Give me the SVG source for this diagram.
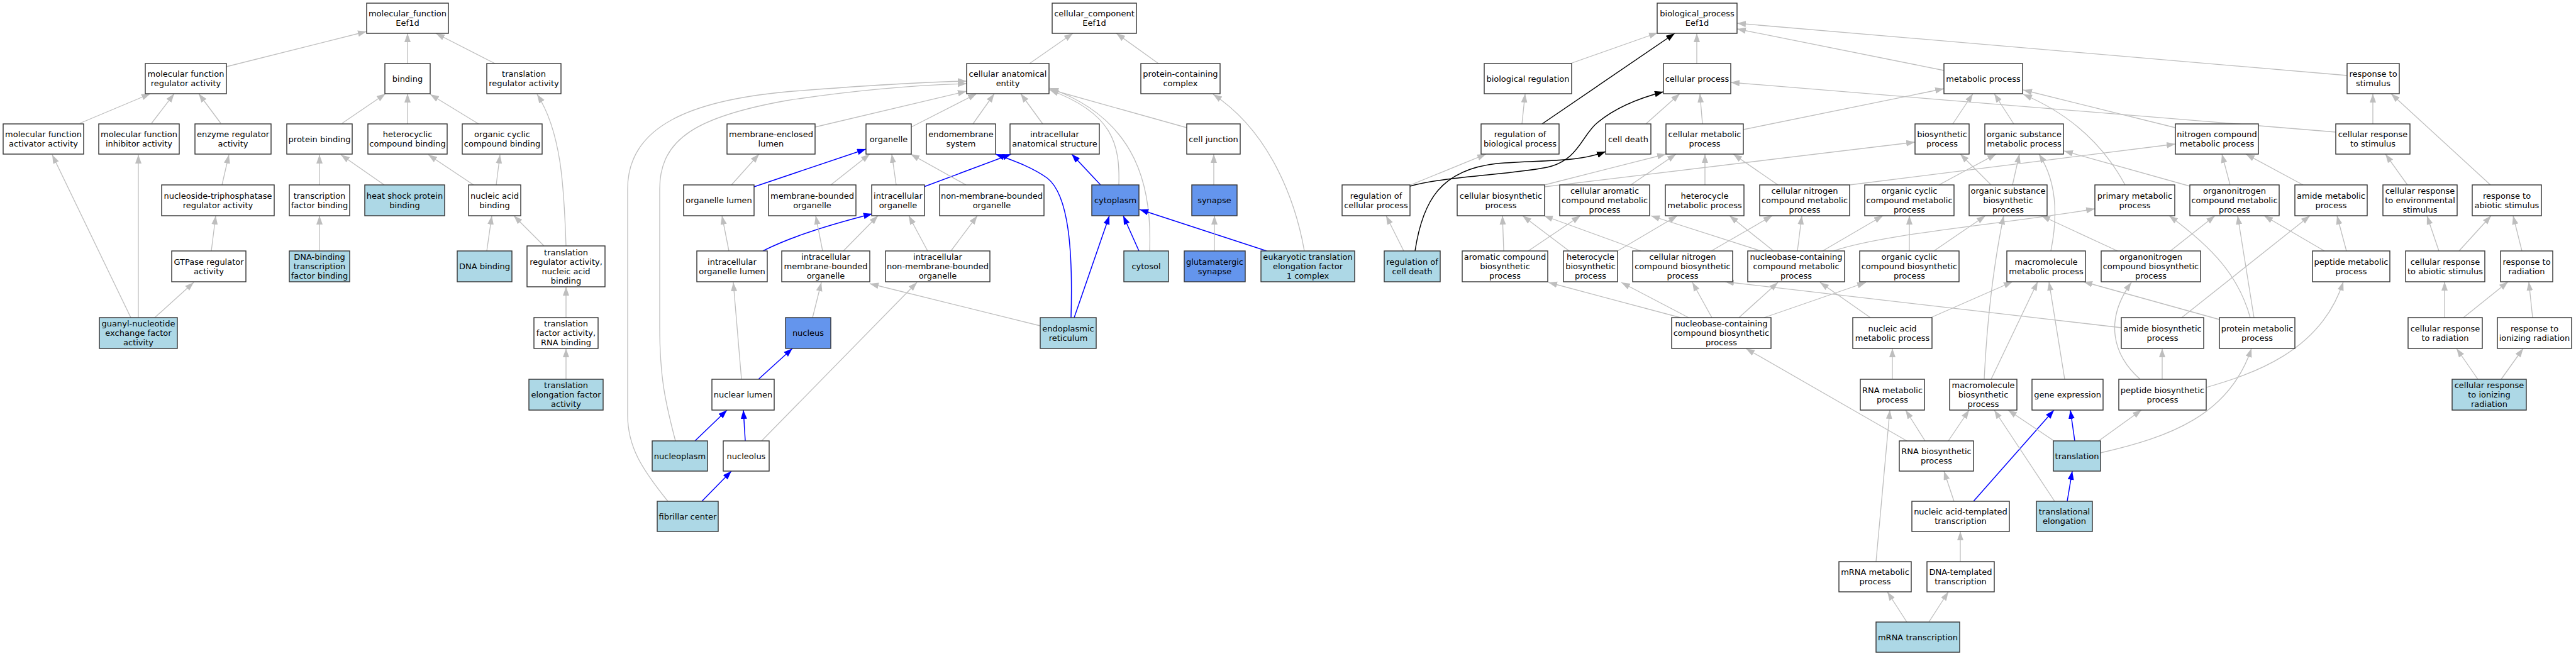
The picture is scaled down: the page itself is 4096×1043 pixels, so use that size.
<svg xmlns="http://www.w3.org/2000/svg" width="4096" height="1043" viewBox="0 0 4096 1043">
<style>
.n rect{fill:#fff;stroke:#333;stroke-width:1.4}
.lb rect{fill:#ADD8E6}
.cb rect{fill:#6495ED}
text{font-family:"DejaVu Sans","Liberation Sans",sans-serif;font-size:13px;text-anchor:middle;fill:#000}
.e{fill:none;stroke:#BEBEBE;stroke-width:1.3;marker-end:url(#ag)}
.b{fill:none;stroke:#0000FF;stroke-width:1.5;marker-end:url(#ab)}
.k{fill:none;stroke:#000;stroke-width:1.5;marker-end:url(#ak)}
</style>
<defs>
<marker id="ag" markerWidth="15" markerHeight="11" refX="14" refY="5" orient="auto" markerUnits="userSpaceOnUse"><path d="M0,0 L14,5 L0,10 z" fill="#BEBEBE"/></marker>
<marker id="ab" markerWidth="15" markerHeight="11" refX="14" refY="5" orient="auto" markerUnits="userSpaceOnUse"><path d="M0,0 L14,5 L0,10 z" fill="#0000FF"/></marker>
<marker id="ak" markerWidth="15" markerHeight="11" refX="14" refY="5" orient="auto" markerUnits="userSpaceOnUse"><path d="M0,0 L14,5 L0,10 z" fill="#000"/></marker>
</defs>
<rect x="0" y="0" width="4096" height="1043" fill="#fff"/>
<g id="connectors">
<path class="e" d="M360,106 L583,50"/>
<path class="e" d="M648,101 L648,53"/>
<path class="e" d="M787,101 L693,53"/>
<path class="e" d="M127,196 L239,149"/>
<path class="e" d="M241,196 L277,149"/>
<path class="e" d="M351,196 L316,149"/>
<path class="e" d="M544,196 L613,149"/>
<path class="e" d="M648,197 L648,149"/>
<path class="e" d="M761,197 L684,150"/>
<path class="e" d="M208,505 L83,246"/>
<path class="e" d="M220,505 L220,246"/>
<path class="e" d="M246,505 L308,449"/>
<path class="e" d="M336,399 L343,343"/>
<path class="e" d="M353,294 L364,246"/>
<path class="e" d="M508,294 L508,246"/>
<path class="e" d="M611,294 L542,246"/>
<path class="e" d="M508,399 L508,343"/>
<path class="e" d="M753,294 L681,246"/>
<path class="e" d="M789,294 L795,246"/>
<path class="e" d="M774,399 L782,343"/>
<path class="e" d="M865,391 L817,343"/>
<path class="e" d="M900,391 C897,300 893,210 854,150"/>
<path class="e" d="M900,505 L900,456"/>
<path class="e" d="M900,603 L900,554"/>
<path class="e" d="M1637,101 L1706,53"/>
<path class="e" d="M1842,101 L1775,53"/>
<path class="e" d="M1296,202 L1537,145"/>
<path class="e" d="M1062,797 C1020,745 998,710 998,660 L998,300 C998,200 1100,160 1250,146 C1400,134 1480,130 1537,129"/>
<path class="e" d="M1074,701 C1058,640 1049,600 1049,520 L1049,300 C1049,220 1110,185 1250,160 C1380,140 1470,135 1537,133"/>
<path class="e" d="M1449,202 L1553,149"/>
<path class="e" d="M1547,197 L1581,149"/>
<path class="e" d="M1658,197 L1623,149"/>
<path class="e" d="M1887,203 L1669,142"/>
<path class="e" d="M1779,294 C1781,230 1770,180 1669,143"/>
<path class="e" d="M1828,399 C1832,300 1810,190 1669,140"/>
<path class="e" d="M2074,399 C2060,320 2020,210 1929,150"/>
<path class="b" d="M2014,399 L1812,333"/>
<path class="b" d="M1811,399 L1786,343"/>
<path class="b" d="M1708,505 L1764,343"/>
<path class="b" d="M1703,505 C1706,400 1700,310 1665,283 C1640,265 1610,255 1583,245"/>
<path class="b" d="M1469,297 L1608,245"/>
<path class="b" d="M1750,294 L1704,245"/>
<path class="e" d="M1930,294 L1930,245"/>
<path class="e" d="M1931,399 L1931,343"/>
<path class="e" d="M1425,294 L1418,245"/>
<path class="e" d="M1536,294 L1448,245"/>
<path class="e" d="M1475,399 L1445,343"/>
<path class="e" d="M1512,399 L1554,343"/>
<path class="e" d="M1211,701 L1458,449"/>
<path class="e" d="M1654,518 L1383,451"/>
<path class="b" d="M1199,297 L1377,237"/>
<path class="e" d="M1163,294 L1207,245"/>
<path class="e" d="M1321,294 L1383,245"/>
<path class="e" d="M1159,399 L1148,343"/>
<path class="b" d="M1213,399 C1250,380 1300,362 1387,340"/>
<path class="e" d="M1308,399 L1297,343"/>
<path class="e" d="M1341,399 L1396,343"/>
<path class="e" d="M1292,505 L1306,449"/>
<path class="e" d="M1179,603 L1166,449"/>
<path class="b" d="M1206,603 L1260,554"/>
<path class="b" d="M1105,701 L1156,652"/>
<path class="b" d="M1185,701 L1182,652"/>
<path class="b" d="M1116,797 L1163,749"/>
<path class="e" d="M2497,101 L2636,52"/>
<path class="k" d="M2452,197 L2663,53"/>
<path class="e" d="M2698,101 L2698,53"/>
<path class="e" d="M3091,112 L2762,46"/>
<path class="e" d="M3732,120 L2762,37"/>
<path class="e" d="M2707,197 L2703,149"/>
<path class="e" d="M2617,197 L2671,149"/>
<path class="k" d="M2242,296 C2300,280 2400,278 2460,266 C2510,255 2515,215 2540,195 C2570,170 2610,155 2645,146"/>
<path class="e" d="M2243,294 L2363,245"/>
<path class="k" d="M2250,399 C2262,320 2290,270 2380,260 C2460,254 2510,258 2553,241"/>
<path class="e" d="M2232,399 L2204,343"/>
<path class="e" d="M3714,210 L2752,131"/>
<path class="e" d="M2772,206 L3091,141"/>
<path class="e" d="M2456,294 L2649,245"/>
<path class="e" d="M2456,297 L3045,226"/>
<path class="e" d="M2593,294 L2665,245"/>
<path class="e" d="M2711,294 L2711,245"/>
<path class="e" d="M2827,294 L2756,245"/>
<path class="e" d="M2941,294 L3459,229"/>
<path class="e" d="M3083,294 L3174,245"/>
<path class="e" d="M3166,294 L3117,245"/>
<path class="e" d="M3200,294 L3211,245"/>
<path class="e" d="M3105,197 L3137,149"/>
<path class="e" d="M3202,197 L3171,149"/>
<path class="e" d="M3379,294 C3350,240 3300,185 3217,150"/>
<path class="e" d="M3459,203 L3217,143"/>
<path class="e" d="M3261,399 C3275,330 3265,280 3242,245"/>
<path class="e" d="M3482,296 L3282,240"/>
<path class="e" d="M3367,399 L3246,343"/>
<path class="e" d="M3451,399 L3522,343"/>
<path class="e" d="M3529,508 L3313,448"/>
<path class="e" d="M3578,505 C3560,440 3520,395 3449,343"/>
<path class="e" d="M3584,505 L3558,343"/>
<path class="e" d="M3469,505 L3673,343"/>
<path class="e" d="M3731,399 L3716,343"/>
<path class="e" d="M3696,399 L3600,343"/>
<path class="e" d="M3662,294 L3571,245"/>
<path class="e" d="M3546,294 L3533,245"/>
<path class="e" d="M3773,197 L3773,149"/>
<path class="e" d="M3960,294 L3802,149"/>
<path class="e" d="M3828,294 L3793,245"/>
<path class="e" d="M3878,399 L3859,343"/>
<path class="e" d="M3910,399 L3961,343"/>
<path class="e" d="M4010,399 L3996,343"/>
<path class="e" d="M3887,505 L3887,448"/>
<path class="e" d="M3917,505 L3988,448"/>
<path class="e" d="M4027,505 L4021,448"/>
<path class="e" d="M3940,603 L3906,554"/>
<path class="e" d="M3977,603 L4012,554"/>
<path class="e" d="M3508,616 C3580,595 3690,560 3726,448"/>
<path class="e" d="M3340,720 C3450,695 3545,660 3580,554"/>
<path class="e" d="M3403,603 C3360,565 3345,510 3389,449"/>
<path class="e" d="M3438,603 L3438,554"/>
<path class="e" d="M3373,521 L2743,448"/>
<path class="e" d="M2391,399 L2389,343"/>
<path class="e" d="M2430,399 L2513,343"/>
<path class="e" d="M2495,399 L2421,343"/>
<path class="e" d="M2572,399 L2667,343"/>
<path class="e" d="M2609,399 L2455,343"/>
<path class="e" d="M2721,399 L2818,343"/>
<path class="e" d="M2800,399 L2625,343"/>
<path class="e" d="M2820,399 L2750,343"/>
<path class="e" d="M2858,399 L2865,343"/>
<path class="e" d="M2898,399 L2994,343"/>
<path class="e" d="M3036,399 L3036,343"/>
<path class="e" d="M3075,399 L3157,343"/>
<path class="e" d="M2915,399 C3000,370 3200,355 3331,332"/>
<path class="e" d="M2974,505 L2894,449"/>
<path class="e" d="M3070,505 L3200,448"/>
<path class="e" d="M2672,505 L2462,449"/>
<path class="e" d="M2685,505 L2578,449"/>
<path class="e" d="M2722,505 L2691,449"/>
<path class="e" d="M2765,505 L2827,449"/>
<path class="e" d="M2805,505 L2967,449"/>
<path class="e" d="M3009,603 L3009,554"/>
<path class="e" d="M3155,603 C3160,500 3170,420 3186,343"/>
<path class="e" d="M3166,603 L3240,448"/>
<path class="e" d="M3283,603 L3258,448"/>
<path class="e" d="M3061,701 L3030,652"/>
<path class="e" d="M3098,701 L3131,652"/>
<path class="e" d="M3032,701 L2776,554"/>
<path class="e" d="M3107,797 L3091,749"/>
<path class="b" d="M3138,797 L3266,652"/>
<path class="b" d="M3299,701 L3292,652"/>
<path class="e" d="M3266,701 L3193,652"/>
<path class="e" d="M3337,701 L3405,652"/>
<path class="b" d="M3287,797 L3295,749"/>
<path class="e" d="M3267,797 L3171,652"/>
<path class="e" d="M3117,893 L3117,845"/>
<path class="e" d="M2983,893 L3005,652"/>
<path class="e" d="M3032,989 L3001,941"/>
<path class="e" d="M3067,989 L3098,941"/>
<path class="e" d="M2420,197 L2425,149"/>
</g>
<g id="nodes">
<g id="mf_root" class="n"><rect x="583" y="5" width="130" height="48"/><text x="648" y="26"><tspan x="648">molecular_function</tspan><tspan x="648" dy="15">Eef1d</tspan></text></g>
<g id="mfra" class="n"><rect x="231" y="101" width="129" height="48"/><text x="295.5" y="122"><tspan x="295.5">molecular function</tspan><tspan x="295.5" dy="15">regulator activity</tspan></text></g>
<g id="binding" class="n"><rect x="612" y="101" width="72" height="48"/><text x="648" y="129.5">binding</text></g>
<g id="tra" class="n"><rect x="774" y="101" width="118" height="48"/><text x="833" y="122"><tspan x="833">translation</tspan><tspan x="833" dy="15">regulator activity</tspan></text></g>
<g id="mfaa" class="n"><rect x="5" y="197" width="128" height="48"/><text x="69" y="218"><tspan x="69">molecular function</tspan><tspan x="69" dy="15">activator activity</tspan></text></g>
<g id="mfia" class="n"><rect x="157" y="197" width="128" height="48"/><text x="221" y="218"><tspan x="221">molecular function</tspan><tspan x="221" dy="15">inhibitor activity</tspan></text></g>
<g id="era" class="n"><rect x="310" y="197" width="121" height="48"/><text x="370.5" y="218"><tspan x="370.5">enzyme regulator</tspan><tspan x="370.5" dy="15">activity</tspan></text></g>
<g id="pb" class="n"><rect x="456" y="197" width="104" height="48"/><text x="508" y="225.5">protein binding</text></g>
<g id="hcb" class="n"><rect x="585" y="197" width="126" height="48"/><text x="648" y="218"><tspan x="648">heterocyclic</tspan><tspan x="648" dy="15">compound binding</tspan></text></g>
<g id="occb" class="n"><rect x="735" y="197" width="127" height="48"/><text x="798.5" y="218"><tspan x="798.5">organic cyclic</tspan><tspan x="798.5" dy="15">compound binding</tspan></text></g>
<g id="ntra" class="n"><rect x="257" y="294" width="179" height="49"/><text x="346.5" y="315.5"><tspan x="346.5">nucleoside-triphosphatase</tspan><tspan x="346.5" dy="15">regulator activity</tspan></text></g>
<g id="tfb" class="n"><rect x="460" y="294" width="96" height="49"/><text x="508" y="315.5"><tspan x="508">transcription</tspan><tspan x="508" dy="15">factor binding</tspan></text></g>
<g id="hspb" class="n lb"><rect x="580" y="294" width="127" height="49"/><text x="643.5" y="315.5"><tspan x="643.5">heat shock protein</tspan><tspan x="643.5" dy="15">binding</tspan></text></g>
<g id="nab" class="n"><rect x="745" y="294" width="83" height="49"/><text x="786.5" y="315.5"><tspan x="786.5">nucleic acid</tspan><tspan x="786.5" dy="15">binding</tspan></text></g>
<g id="gtpra" class="n"><rect x="273" y="399" width="118" height="49"/><text x="332" y="420.5"><tspan x="332">GTPase regulator</tspan><tspan x="332" dy="15">activity</tspan></text></g>
<g id="dbtfb" class="n lb"><rect x="460" y="399" width="96" height="49"/><text x="508" y="413"><tspan x="508">DNA-binding</tspan><tspan x="508" dy="15">transcription</tspan><tspan x="508" dy="15">factor binding</tspan></text></g>
<g id="dnab" class="n lb"><rect x="727" y="399" width="87" height="49"/><text x="770.5" y="428">DNA binding</text></g>
<g id="tranab" class="n"><rect x="838" y="391" width="124" height="65"/><text x="900" y="405.5"><tspan x="900">translation</tspan><tspan x="900" dy="15">regulator activity,</tspan><tspan x="900" dy="15">nucleic acid</tspan><tspan x="900" dy="15">binding</tspan></text></g>
<g id="gnef" class="n lb"><rect x="158" y="505" width="124" height="49"/><text x="220" y="519"><tspan x="220">guanyl-nucleotide</tspan><tspan x="220" dy="15">exchange factor</tspan><tspan x="220" dy="15">activity</tspan></text></g>
<g id="tfarb" class="n"><rect x="849" y="505" width="102" height="49"/><text x="900" y="519"><tspan x="900">translation</tspan><tspan x="900" dy="15">factor activity,</tspan><tspan x="900" dy="15">RNA binding</tspan></text></g>
<g id="tefa" class="n lb"><rect x="841" y="603" width="118" height="49"/><text x="900" y="617"><tspan x="900">translation</tspan><tspan x="900" dy="15">elongation factor</tspan><tspan x="900" dy="15">activity</tspan></text></g>

<g id="cc_root" class="n"><rect x="1673" y="5" width="134" height="48"/><text x="1740" y="26"><tspan x="1740">cellular_component</tspan><tspan x="1740" dy="15">Eef1d</tspan></text></g>
<g id="cae" class="n"><rect x="1537" y="101" width="131" height="48"/><text x="1602.5" y="122"><tspan x="1602.5">cellular anatomical</tspan><tspan x="1602.5" dy="15">entity</tspan></text></g>
<g id="pcc" class="n"><rect x="1814" y="101" width="126" height="48"/><text x="1877" y="122"><tspan x="1877">protein-containing</tspan><tspan x="1877" dy="15">complex</tspan></text></g>
<g id="mel" class="n"><rect x="1156" y="197" width="140" height="48"/><text x="1226" y="218"><tspan x="1226">membrane-enclosed</tspan><tspan x="1226" dy="15">lumen</tspan></text></g>
<g id="organelle" class="n"><rect x="1377" y="197" width="72" height="48"/><text x="1413" y="225.5">organelle</text></g>
<g id="ems" class="n"><rect x="1473" y="197" width="110" height="48"/><text x="1528" y="218"><tspan x="1528">endomembrane</tspan><tspan x="1528" dy="15">system</tspan></text></g>
<g id="ias" class="n"><rect x="1606" y="197" width="142" height="48"/><text x="1677" y="218"><tspan x="1677">intracellular</tspan><tspan x="1677" dy="15">anatomical structure</tspan></text></g>
<g id="cj" class="n"><rect x="1887" y="197" width="85" height="48"/><text x="1929.5" y="225.5">cell junction</text></g>
<g id="ol" class="n"><rect x="1087" y="294" width="112" height="49"/><text x="1143" y="323">organelle lumen</text></g>
<g id="mbo" class="n"><rect x="1222" y="294" width="139" height="49"/><text x="1291.5" y="315.5"><tspan x="1291.5">membrane-bounded</tspan><tspan x="1291.5" dy="15">organelle</tspan></text></g>
<g id="io" class="n"><rect x="1386" y="294" width="84" height="49"/><text x="1428" y="315.5"><tspan x="1428">intracellular</tspan><tspan x="1428" dy="15">organelle</tspan></text></g>
<g id="nmbo" class="n"><rect x="1494" y="294" width="166" height="49"/><text x="1577" y="315.5"><tspan x="1577">non-membrane-bounded</tspan><tspan x="1577" dy="15">organelle</tspan></text></g>
<g id="cytoplasm" class="n cb"><rect x="1736" y="294" width="75" height="49"/><text x="1773.5" y="323">cytoplasm</text></g>
<g id="synapse" class="n cb"><rect x="1895" y="294" width="72" height="49"/><text x="1931" y="323">synapse</text></g>
<g id="iol" class="n"><rect x="1108" y="399" width="112" height="49"/><text x="1164" y="420.5"><tspan x="1164">intracellular</tspan><tspan x="1164" dy="15">organelle lumen</tspan></text></g>
<g id="imbo" class="n"><rect x="1243" y="399" width="140" height="49"/><text x="1313" y="413"><tspan x="1313">intracellular</tspan><tspan x="1313" dy="15">membrane-bounded</tspan><tspan x="1313" dy="15">organelle</tspan></text></g>
<g id="inmbo" class="n"><rect x="1408" y="399" width="166" height="49"/><text x="1491" y="413"><tspan x="1491">intracellular</tspan><tspan x="1491" dy="15">non-membrane-bounded</tspan><tspan x="1491" dy="15">organelle</tspan></text></g>
<g id="cytosol" class="n lb"><rect x="1787" y="399" width="71" height="49"/><text x="1822.5" y="428">cytosol</text></g>
<g id="gsyn" class="n cb"><rect x="1883" y="399" width="97" height="49"/><text x="1931.5" y="420.5"><tspan x="1931.5">glutamatergic</tspan><tspan x="1931.5" dy="15">synapse</tspan></text></g>
<g id="eef1c" class="n lb"><rect x="2005" y="399" width="149" height="49"/><text x="2079.5" y="413"><tspan x="2079.5">eukaryotic translation</tspan><tspan x="2079.5" dy="15">elongation factor</tspan><tspan x="2079.5" dy="15">1 complex</tspan></text></g>
<g id="nucleus" class="n cb"><rect x="1249" y="505" width="72" height="49"/><text x="1285" y="534">nucleus</text></g>
<g id="er" class="n lb"><rect x="1654" y="505" width="89" height="49"/><text x="1698.5" y="526.5"><tspan x="1698.5">endoplasmic</tspan><tspan x="1698.5" dy="15">reticulum</tspan></text></g>
<g id="nl" class="n"><rect x="1132" y="603" width="99" height="49"/><text x="1181.5" y="632">nuclear lumen</text></g>
<g id="nucleoplasm" class="n lb"><rect x="1037" y="701" width="88" height="48"/><text x="1081" y="729.5">nucleoplasm</text></g>
<g id="nucleolus" class="n"><rect x="1150" y="701" width="73" height="48"/><text x="1186.5" y="729.5">nucleolus</text></g>
<g id="fc" class="n lb"><rect x="1045" y="797" width="97" height="48"/><text x="1093.5" y="825.5">fibrillar center</text></g>

<g id="bp_root" class="n"><rect x="2635" y="5" width="127" height="48"/><text x="2698.5" y="26"><tspan x="2698.5">biological_process</tspan><tspan x="2698.5" dy="15">Eef1d</tspan></text></g>
<g id="breg" class="n"><rect x="2360" y="101" width="139" height="48"/><text x="2429.5" y="129.5">biological regulation</text></g>
<g id="cp" class="n"><rect x="2645" y="101" width="107" height="48"/><text x="2698.5" y="129.5">cellular process</text></g>
<g id="mp" class="n"><rect x="3091" y="101" width="125" height="48"/><text x="3153.5" y="129.5">metabolic process</text></g>
<g id="rts" class="n"><rect x="3732" y="101" width="83" height="48"/><text x="3773.5" y="122"><tspan x="3773.5">response to</tspan><tspan x="3773.5" dy="15">stimulus</tspan></text></g>
<g id="rbp" class="n"><rect x="2355" y="197" width="124" height="48"/><text x="2417" y="218"><tspan x="2417">regulation of</tspan><tspan x="2417" dy="15">biological process</tspan></text></g>
<g id="cd" class="n"><rect x="2553" y="197" width="72" height="48"/><text x="2589" y="225.5">cell death</text></g>
<g id="cmp" class="n"><rect x="2649" y="197" width="123" height="48"/><text x="2710.5" y="218"><tspan x="2710.5">cellular metabolic</tspan><tspan x="2710.5" dy="15">process</tspan></text></g>
<g id="bsp" class="n"><rect x="3045" y="197" width="86" height="48"/><text x="3088" y="218"><tspan x="3088">biosynthetic</tspan><tspan x="3088" dy="15">process</tspan></text></g>
<g id="osmp" class="n"><rect x="3156" y="197" width="125" height="48"/><text x="3218.5" y="218"><tspan x="3218.5">organic substance</tspan><tspan x="3218.5" dy="15">metabolic process</tspan></text></g>
<g id="ncmp" class="n"><rect x="3459" y="197" width="132" height="48"/><text x="3525" y="218"><tspan x="3525">nitrogen compound</tspan><tspan x="3525" dy="15">metabolic process</tspan></text></g>
<g id="crts" class="n"><rect x="3714" y="197" width="118" height="48"/><text x="3773" y="218"><tspan x="3773">cellular response</tspan><tspan x="3773" dy="15">to stimulus</tspan></text></g>
<g id="rcp" class="n"><rect x="2134" y="294" width="108" height="49"/><text x="2188" y="315.5"><tspan x="2188">regulation of</tspan><tspan x="2188" dy="15">cellular process</tspan></text></g>
<g id="cbp" class="n"><rect x="2317" y="294" width="139" height="49"/><text x="2386.5" y="315.5"><tspan x="2386.5">cellular biosynthetic</tspan><tspan x="2386.5" dy="15">process</tspan></text></g>
<g id="cacmp" class="n"><rect x="2480" y="294" width="143" height="49"/><text x="2551.5" y="308"><tspan x="2551.5">cellular aromatic</tspan><tspan x="2551.5" dy="15">compound metabolic</tspan><tspan x="2551.5" dy="15">process</tspan></text></g>
<g id="hmp" class="n"><rect x="2648" y="294" width="125" height="49"/><text x="2710.5" y="315.5"><tspan x="2710.5">heterocycle</tspan><tspan x="2710.5" dy="15">metabolic process</tspan></text></g>
<g id="cncmp" class="n"><rect x="2798" y="294" width="143" height="49"/><text x="2869.5" y="308"><tspan x="2869.5">cellular nitrogen</tspan><tspan x="2869.5" dy="15">compound metabolic</tspan><tspan x="2869.5" dy="15">process</tspan></text></g>
<g id="occmp" class="n"><rect x="2965" y="294" width="142" height="49"/><text x="3036" y="308"><tspan x="3036">organic cyclic</tspan><tspan x="3036" dy="15">compound metabolic</tspan><tspan x="3036" dy="15">process</tspan></text></g>
<g id="osbp" class="n"><rect x="3131" y="294" width="124" height="49"/><text x="3193" y="308"><tspan x="3193">organic substance</tspan><tspan x="3193" dy="15">biosynthetic</tspan><tspan x="3193" dy="15">process</tspan></text></g>
<g id="pmp" class="n"><rect x="3331" y="294" width="127" height="49"/><text x="3394.5" y="315.5"><tspan x="3394.5">primary metabolic</tspan><tspan x="3394.5" dy="15">process</tspan></text></g>
<g id="oncmp" class="n"><rect x="3482" y="294" width="142" height="49"/><text x="3553" y="308"><tspan x="3553">organonitrogen</tspan><tspan x="3553" dy="15">compound metabolic</tspan><tspan x="3553" dy="15">process</tspan></text></g>
<g id="amp" class="n"><rect x="3649" y="294" width="115" height="49"/><text x="3706.5" y="315.5"><tspan x="3706.5">amide metabolic</tspan><tspan x="3706.5" dy="15">process</tspan></text></g>
<g id="crtes" class="n"><rect x="3789" y="294" width="118" height="49"/><text x="3848" y="308"><tspan x="3848">cellular response</tspan><tspan x="3848" dy="15">to environmental</tspan><tspan x="3848" dy="15">stimulus</tspan></text></g>
<g id="rtas" class="n"><rect x="3931" y="294" width="110" height="49"/><text x="3986" y="315.5"><tspan x="3986">response to</tspan><tspan x="3986" dy="15">abiotic stimulus</tspan></text></g>
<g id="rcd" class="n lb"><rect x="2201" y="399" width="89" height="49"/><text x="2245.5" y="420.5"><tspan x="2245.5">regulation of</tspan><tspan x="2245.5" dy="15">cell death</tspan></text></g>
<g id="acbp" class="n"><rect x="2325" y="399" width="136" height="49"/><text x="2393" y="413"><tspan x="2393">aromatic compound</tspan><tspan x="2393" dy="15">biosynthetic</tspan><tspan x="2393" dy="15">process</tspan></text></g>
<g id="hbp" class="n"><rect x="2486" y="399" width="86" height="49"/><text x="2529" y="413"><tspan x="2529">heterocycle</tspan><tspan x="2529" dy="15">biosynthetic</tspan><tspan x="2529" dy="15">process</tspan></text></g>
<g id="cncbp" class="n"><rect x="2596" y="399" width="159" height="49"/><text x="2675.5" y="413"><tspan x="2675.5">cellular nitrogen</tspan><tspan x="2675.5" dy="15">compound biosynthetic</tspan><tspan x="2675.5" dy="15">process</tspan></text></g>
<g id="nccmp" class="n"><rect x="2779" y="399" width="154" height="49"/><text x="2856" y="413"><tspan x="2856">nucleobase-containing</tspan><tspan x="2856" dy="15">compound metabolic</tspan><tspan x="2856" dy="15">process</tspan></text></g>
<g id="occbp" class="n"><rect x="2957" y="399" width="158" height="49"/><text x="3036" y="413"><tspan x="3036">organic cyclic</tspan><tspan x="3036" dy="15">compound biosynthetic</tspan><tspan x="3036" dy="15">process</tspan></text></g>
<g id="mmp" class="n"><rect x="3191" y="399" width="125" height="49"/><text x="3253.5" y="420.5"><tspan x="3253.5">macromolecule</tspan><tspan x="3253.5" dy="15">metabolic process</tspan></text></g>
<g id="oncbp" class="n"><rect x="3341" y="399" width="158" height="49"/><text x="3420" y="413"><tspan x="3420">organonitrogen</tspan><tspan x="3420" dy="15">compound biosynthetic</tspan><tspan x="3420" dy="15">process</tspan></text></g>
<g id="pepmp" class="n"><rect x="3677" y="399" width="123" height="49"/><text x="3738.5" y="420.5"><tspan x="3738.5">peptide metabolic</tspan><tspan x="3738.5" dy="15">process</tspan></text></g>
<g id="crtas" class="n"><rect x="3825" y="399" width="126" height="49"/><text x="3888" y="420.5"><tspan x="3888">cellular response</tspan><tspan x="3888" dy="15">to abiotic stimulus</tspan></text></g>
<g id="rtr" class="n"><rect x="3976" y="399" width="83" height="49"/><text x="4017.5" y="420.5"><tspan x="4017.5">response to</tspan><tspan x="4017.5" dy="15">radiation</tspan></text></g>
<g id="nccbp" class="n"><rect x="2658" y="505" width="158" height="49"/><text x="2737" y="519"><tspan x="2737">nucleobase-containing</tspan><tspan x="2737" dy="15">compound biosynthetic</tspan><tspan x="2737" dy="15">process</tspan></text></g>
<g id="nal" class="n"><rect x="2946" y="505" width="126" height="49"/><text x="3009" y="526.5"><tspan x="3009">nucleic acid</tspan><tspan x="3009" dy="15">metabolic process</tspan></text></g>
<g id="abp" class="n"><rect x="3373" y="505" width="131" height="49"/><text x="3438.5" y="526.5"><tspan x="3438.5">amide biosynthetic</tspan><tspan x="3438.5" dy="15">process</tspan></text></g>
<g id="prmp" class="n"><rect x="3529" y="505" width="120" height="49"/><text x="3589" y="526.5"><tspan x="3589">protein metabolic</tspan><tspan x="3589" dy="15">process</tspan></text></g>
<g id="crtr" class="n"><rect x="3829" y="505" width="118" height="49"/><text x="3888" y="526.5"><tspan x="3888">cellular response</tspan><tspan x="3888" dy="15">to radiation</tspan></text></g>
<g id="rtir" class="n"><rect x="3971" y="505" width="118" height="49"/><text x="4030" y="526.5"><tspan x="4030">response to</tspan><tspan x="4030" dy="15">ionizing radiation</tspan></text></g>
<g id="rnamp" class="n"><rect x="2958" y="603" width="102" height="49"/><text x="3009" y="624.5"><tspan x="3009">RNA metabolic</tspan><tspan x="3009" dy="15">process</tspan></text></g>
<g id="mbp" class="n"><rect x="3100" y="603" width="107" height="49"/><text x="3153.5" y="617"><tspan x="3153.5">macromolecule</tspan><tspan x="3153.5" dy="15">biosynthetic</tspan><tspan x="3153.5" dy="15">process</tspan></text></g>
<g id="ge" class="n"><rect x="3231" y="603" width="113" height="49"/><text x="3287.5" y="632">gene expression</text></g>
<g id="pbp" class="n"><rect x="3369" y="603" width="139" height="49"/><text x="3438.5" y="624.5"><tspan x="3438.5">peptide biosynthetic</tspan><tspan x="3438.5" dy="15">process</tspan></text></g>
<g id="crtir" class="n lb"><rect x="3899" y="603" width="118" height="49"/><text x="3958" y="617"><tspan x="3958">cellular response</tspan><tspan x="3958" dy="15">to ionizing</tspan><tspan x="3958" dy="15">radiation</tspan></text></g>
<g id="rnabp" class="n"><rect x="3020" y="701" width="118" height="48"/><text x="3079" y="722"><tspan x="3079">RNA biosynthetic</tspan><tspan x="3079" dy="15">process</tspan></text></g>
<g id="translation" class="n lb"><rect x="3265" y="701" width="75" height="48"/><text x="3302.5" y="729.5">translation</text></g>
<g id="natt" class="n"><rect x="3040" y="797" width="155" height="48"/><text x="3117.5" y="818"><tspan x="3117.5">nucleic acid-templated</tspan><tspan x="3117.5" dy="15">transcription</tspan></text></g>
<g id="te" class="n lb"><rect x="3238" y="797" width="89" height="48"/><text x="3282.5" y="818"><tspan x="3282.5">translational</tspan><tspan x="3282.5" dy="15">elongation</tspan></text></g>
<g id="mrnamp" class="n"><rect x="2924" y="893" width="115" height="48"/><text x="2981.5" y="914"><tspan x="2981.5">mRNA metabolic</tspan><tspan x="2981.5" dy="15">process</tspan></text></g>
<g id="dtt" class="n"><rect x="3064" y="893" width="107" height="48"/><text x="3117.5" y="914"><tspan x="3117.5">DNA-templated</tspan><tspan x="3117.5" dy="15">transcription</tspan></text></g>
<g id="mrnat" class="n lb"><rect x="2983" y="989" width="133" height="48"/><text x="3049.5" y="1017.5">mRNA transcription</text></g>
</g>
</svg>
